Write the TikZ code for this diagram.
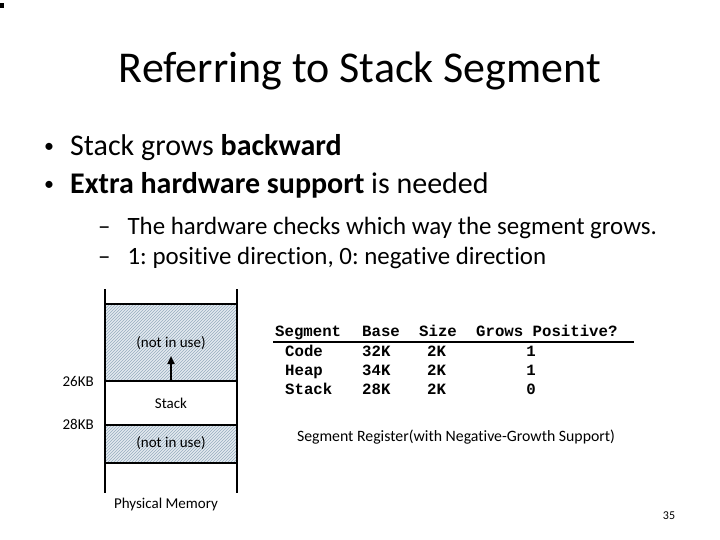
\documentclass[tikz,border=0pt]{standalone}
\usepackage{fontspec}
\setmainfont{Carlito}[Ligatures=NoCommon]
\newfontfamily\regfont{Liberation Mono}
\usetikzlibrary{arrows.meta, positioning, patterns}
\definecolor{hatchbg}{RGB}{228,234,240}
\definecolor{hatchln}{RGB}{150,172,190}
\frenchspacing

\begin{document}
\begin{tikzpicture}[x=1pt, y=-1pt,
  title/.style={anchor=base, inner sep=0pt, font=\fontsize{44}{50}\selectfont},
  bul/.style={anchor=base west, inner sep=0pt, font=\fontsize{30}{34}\selectfont},
  dot/.style={anchor=base west, inner sep=0pt, font=\fontsize{20}{24}\selectfont},
  subbul/.style={anchor=base west, inner sep=0pt, font=\fontsize{24.9}{28}\selectfont},
  mem/.style={inner sep=0pt, font=\fontsize{15}{17}\selectfont},
  tab/.style={anchor=base west, inner sep=0pt, font=\regfont\bfseries\fontsize{15.7}{18}\selectfont},
  val/.style={anchor=base, inner sep=0pt, font=\regfont\bfseries\fontsize{15.7}{18}\selectfont},
  wall/.style={line width=2pt},
  unused/.style={fill=hatchbg, postaction={pattern=north east lines, pattern color=hatchln}},
  arr/.style={-{Triangle[length=8pt, width=7pt]}, line width=2pt},
]
  \useasboundingbox (0,0) rectangle (720,540);
  \fill (0,3) rectangle (4,8);

  % Title and bullets
  \node[title] (ttl) at (360,83) {Referring to Stack Segment};
  \node[dot] (d1) at (44,153) {•};
  \node[bul] (b1) at (70,156) {Stack grows \textbf{backward}};
  \node[dot] (d2) at (44,191) {•};
  \node[bul] (b2) at (70,194) {\textbf{Extra hardware support} is needed};
  \node[subbul] (s1) at (98,234) {–\hspace{17pt}The hardware checks which way the segment grows.};
  \node[subbul] (s2) at (98,264) {–\hspace{17pt}1: positive direction, 0: negative direction};

  % Physical memory
  \fill[unused] (105,304) rectangle (237,381);
  \fill[unused] (105,425) rectangle (237,463);
  \draw[wall] (105,289) -- (105,493);
  \draw[wall] (237,289) -- (237,493);
  \draw[wall] (105,304) -- (237,304);
  \draw[wall] (105,381) -- (237,381);
  \draw[wall] (105,425) -- (237,425);
  \draw[wall] (105,463) -- (237,463);
  \node[mem] (nu1) at (171,343) {(not in use)};
  \node[mem] (stk) at (171,403) {Stack};
  \node[mem] (nu2) at (171,443) {(not in use)};
  \node[mem, anchor=east] (kb26) at (94,381) {26KB};
  \node[mem, anchor=east] (kb28) at (94,424) {28KB};
  \node[mem] (phys) at (166,504) {Physical Memory};
  \coordinate (stacktop) at (171,381);
  \coordinate (arrtip) at (171,356);
  \draw[arr] (stacktop) -- (arrtip);

  % Segment register table
  \node[tab] (hseg) at (275,336) {Segment};
  \node[tab] (hbase) at (362,336) {Base};
  \node[tab] (hsize) at (419,336) {Size};
  \node[tab] (hgrow) at (476,336) {Grows Positive?};
  \coordinate (ul0) at (273,342);
  \coordinate (ul1) at (634,342);
  \draw[line width=1.5pt] (ul0) -- (ul1);

  \node[tab] (code) at (285,356) {Code};
  \node[tab] (heap) at (285,375) {Heap};
  \node[tab] (stack) at (285,394) {Stack};
  \node[tab] (cbase) at (362,356) {32K};
  \node[tab] (hpbase) at (362,375) {34K};
  \node[tab] (sbase) at (362,394) {28K};
  \node[tab] (csize) at (427,356) {2K};
  \node[tab] (hpsize) at (427,375) {2K};
  \node[tab] (ssize) at (427,394) {2K};
  \node[val] (cgrow) at (531,356) {1};
  \node[val] (hpgrow) at (531,375) {1};
  \node[val] (sgrow) at (531,394) {0};

  \node[anchor=base, inner sep=0pt, font=\fontsize{15.8}{18}\selectfont] (reg) at (456,441)
    {Segment Register(with Negative-Growth Support)};
  \node[anchor=base, inner sep=0pt, font=\fontsize{12}{14}\selectfont] (pg) at (669,519) {35};
\end{tikzpicture}
\end{document}
